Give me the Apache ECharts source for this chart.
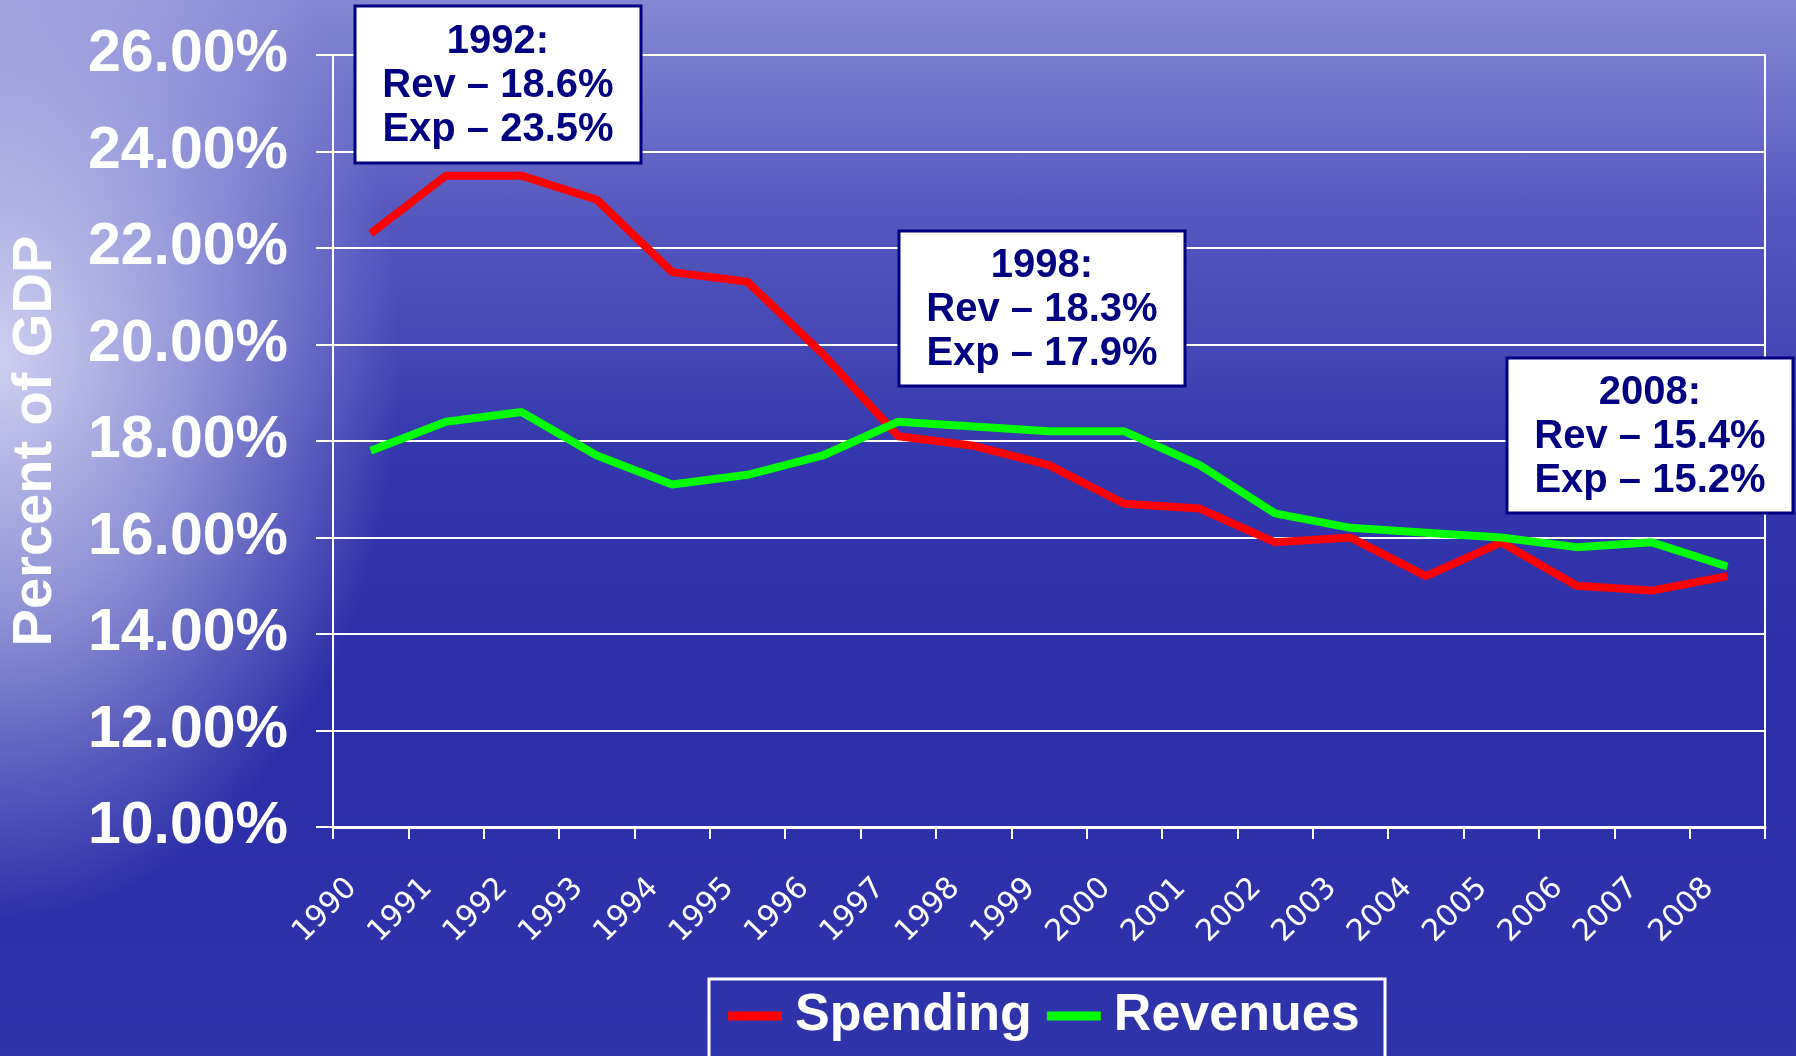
<!DOCTYPE html>
<html>
<head>
<meta charset="utf-8">
<script src="https://cdn.jsdelivr.net/npm/echarts@6/dist/echarts.min.js"></script>
<style>
html, body { margin: 0; padding: 0; }
body {
  width: 1796px;
  height: 1056px;
  overflow: hidden;
  background:
    radial-gradient(ellipse 400px 560px at 0% 34%, rgba(220,222,246,0.9) 0%, rgba(196,198,238,0.65) 45%, rgba(150,152,220,0) 100%),
    linear-gradient(to bottom, rgba(170,172,228,0.55) 0%, rgba(150,152,220,0.5) 7%, rgba(110,112,205,0.3) 20%, rgba(80,82,190,0) 42%),
    linear-gradient(to bottom, #5a5cc0 0%, #4a4db8 20%, #3336ab 45%, #2b2ea7 70%, #3034ab 100%);
}
#chart { width: 1796px; height: 1056px; }
</style>
</head>
<body>
<div id="chart"></div>
<script>
// 数据
var years = ['1990', '1991', '1992', '1993', '1994', '1995', '1996', '1997', '1998', '1999',
  '2000', '2001', '2002', '2003', '2004', '2005', '2006', '2007', '2008']
var spending = [22.3, 23.5, 23.5, 23.0, 21.5, 21.3, 19.8, 18.1, 17.9, 17.5,
  16.7, 16.6, 15.9, 16.0, 15.2, 15.9, 15.0, 14.9, 15.2]
var revenues = [17.8, 18.4, 18.6, 17.7, 17.1, 17.3, 17.7, 18.4, 18.3, 18.2,
  18.2, 17.5, 16.5, 16.2, 16.1, 16.0, 15.8, 15.9, 15.4]
var noteYears = ['1992', '1998', '2008']

// 注释框位置
var noteBoxes = [
  { x: 355, y: 6, w: 286, h: 157 },
  { x: 899, y: 231, w: 286, h: 155 },
  { x: 1507, y: 358, w: 286, h: 155 }
]

function noteText(year) {
  var i = years.indexOf(year)
  return year + ':\nRev \u2013 ' + revenues[i].toFixed(1) + '%\nExp \u2013 ' + spending[i].toFixed(1) + '%'
}

var graphics = []
noteYears.forEach(function (y, k) {
  var b = noteBoxes[k]
  graphics.push({
    type: 'rect',
    z: 100,
    shape: { x: b.x, y: b.y, width: b.w, height: b.h },
    style: { fill: '#ffffff', stroke: '#000080', lineWidth: 3 }
  })
  graphics.push({
    type: 'text',
    z: 101,
    x: b.x + b.w / 2,
    y: b.y + b.h / 2 + 1,
    style: {
      text: noteText(y),
      fill: '#000080',
      fontSize: 40,
      fontWeight: 'bold',
      fontFamily: 'Liberation Sans',
      align: 'center',
      verticalAlign: 'middle',
      lineHeight: 44
    }
  })
})
// 图例框
graphics.push({
  type: 'rect',
  z: 100,
  shape: { x: 709, y: 979, width: 676, height: 100 },
  style: { fill: 'none', stroke: '#ffffff', lineWidth: 3 }
})

var chart = echarts.init(document.getElementById('chart'))
chart.setOption({
  backgroundColor: 'transparent',
  animation: false,
  grid: { left: 333, right: 31, top: 55, bottom: 229 },
  legend: {
    left: 728,
    top: 990,
    padding: 0,
    itemGap: 15,
    icon: 'rect',
    itemWidth: 54,
    itemHeight: 9,
    textStyle: {
      color: '#ffffff',
      fontSize: 52,
      fontWeight: 'bold',
      fontFamily: 'Liberation Sans',
      padding: [0, 0, 0, 8]
    },
    data: ['Spending', 'Revenues']
  },
  xAxis: {
    type: 'category',
    data: years,
    boundaryGap: true,
    axisLine: { lineStyle: { color: '#ffffff', width: 3 } },
    axisTick: { show: true, length: 12, lineStyle: { color: '#ffffff', width: 2 } },
    axisLabel: {
      interval: 0,
      rotate: 45,
      margin: 38,
      color: '#ffffff',
      fontSize: 30,
      fontFamily: 'DejaVu Sans',
      padding: [0, 26, 0, 0]
    },
    splitLine: { show: false }
  },
  yAxis: [
    {
      type: 'value',
      min: 10,
      max: 26,
      interval: 2,
      name: 'Percent of GDP',
      nameLocation: 'middle',
      nameGap: 269,
      nameTextStyle: {
        color: '#ffffff',
        fontSize: 56,
        fontWeight: 'bold',
        fontFamily: 'Liberation Sans'
      },
      axisLine: { show: true, lineStyle: { color: '#ffffff', width: 2 } },
      axisTick: { show: true, length: 17, lineStyle: { color: '#ffffff', width: 2 } },
      axisLabel: {
        margin: 45,
        color: '#ffffff',
        fontSize: 59,
        fontWeight: 'bold',
        fontFamily: 'Liberation Sans',
        formatter: function (v) { return v.toFixed(2) + '%' }
      },
      splitLine: { show: true, lineStyle: { color: '#ffffff', width: 2 } }
    },
    {
      // 右边框
      type: 'value',
      position: 'right',
      min: 10,
      max: 26,
      interval: 2,
      axisLine: { show: true, lineStyle: { color: '#ffffff', width: 2 } },
      axisTick: { show: false },
      axisLabel: { show: false },
      splitLine: { show: false }
    }
  ],
  series: [
    {
      name: 'Spending',
      type: 'line',
      data: spending,
      symbol: 'none',
      color: '#ff0000',
      lineStyle: { color: '#ff0000', width: 8 },
      z: 3
    },
    {
      name: 'Revenues',
      type: 'line',
      data: revenues,
      symbol: 'none',
      color: '#00ff00',
      lineStyle: { color: '#00ff00', width: 8 },
      z: 4
    }
  ],
  graphic: graphics
})
</script>
</body>
</html>
